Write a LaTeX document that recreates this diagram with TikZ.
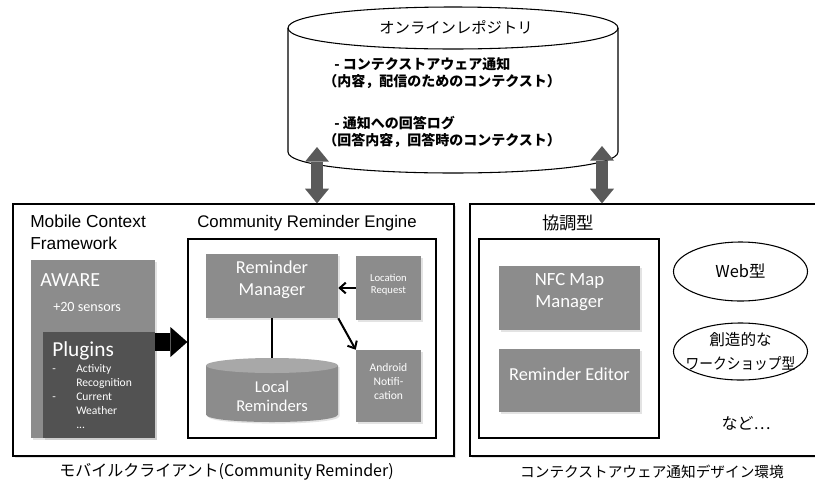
\documentclass[tikz,border=0pt]{standalone}
\usepackage{fontspec}
\setmainfont{Noto Sans CJK JP}
\newfontfamily\arialf{Liberation Sans}
\newfontfamily\calf{Carlito}
\usetikzlibrary{fit,shapes.geometric,arrows.meta,shadows}
\definecolor{boxgray}{HTML}{8C8C8C}
\definecolor{capgray}{HTML}{A8A8A8}
\definecolor{darkgray}{HTML}{525252}
\definecolor{arrowgray}{HTML}{5A5A5A}
\begin{document}
\begin{tikzpicture}[x=0.75pt,y=-0.75pt,
  shadowed/.style={drop shadow={shadow xshift=1.2pt,shadow yshift=-1.2pt,opacity=0.22}},
  outerbox/.style={draw=black,line width=0.9pt,fill=white,inner sep=0pt,shadowed},
  innerbox/.style={draw=black,line width=0.9pt,fill=white,inner sep=0pt},
  graybox/.style={fill=boxgray,inner sep=0pt,text=white,align=center,shadowed},
  darkbox/.style={fill=darkgray,inner sep=0pt,shadowed},
  wtext/.style={text=white,inner sep=0pt,align=center},
  plain/.style={inner sep=0pt,align=center},
  conn/.style={draw=black,line width=1.5pt},
  barb/.style={-{Straight Barb[length=4.5pt,width=8pt]}},
  dblarrow/.style={draw=arrowgray,line width=9pt,
    {Triangle[width=18pt,length=11pt,line width=0pt]}-{Triangle[width=18pt,length=11pt,line width=0pt]}},
  bigarrow/.style={draw=black,line width=14pt,-{Triangle[width=22.5pt,length=12.75pt,line width=0pt]}},
  ovalline/.style={draw=black,line width=0.8pt}
]
\useasboundingbox (0,0) rectangle (815,490);

% ---------- online repository cylinder ----------
\path[draw=black,line width=0.8pt,fill=white]
  (288,28) -- (288,152) .. controls (288,180) and (618,180) .. (618,152)
  -- (618,28) .. controls (618,0) and (288,0) .. cycle;
\draw[line width=0.8pt] (288,28) .. controls (288,56) and (618,56) .. (618,28);
\node[inner sep=0pt,fit={(288,7) (618,173)}] (repo) {};
\node[plain,font=\fontsize{11.5}{14}\selectfont] (repotitle) at (456,27) {オンラインレポジトリ};
\node[plain,anchor=west,font=\bfseries\fontsize{10.5}{13}\selectfont] (r1) at (334,64) {- コンテクストアウェア通知};
\node[plain,anchor=west,font=\bfseries\fontsize{10.5}{13}\selectfont] (r2) at (323,82) {（内容，配信のためのコンテクスト）};
\node[plain,anchor=west,font=\bfseries\fontsize{10.5}{13}\selectfont] (r3) at (334,123) {- 通知への回答ログ};
\node[plain,anchor=west,font=\bfseries\fontsize{10.5}{13}\selectfont] (r4) at (323,141) {（回答内容，回答時のコンテクスト）};

% ---------- outer boxes ----------
\node[outerbox,fit={(13,204) (454,456)}] (leftbox) {};
\node[outerbox,fit={(470,204) (818,456)}] (rightbox) {};

% ---------- left: mobile client ----------
\node[plain,anchor=west,align=left,font=\arialf\fontsize{13}{16.5}\selectfont] (mcf) at (30,232) {Mobile Context\\Framework};
\node[plain,font=\arialf\fontsize{12.6}{15}\selectfont] (cretitle) at (307,223) {Community Reminder Engine};

\node[graybox,fit={(31,260) (155,438)}] (aware) {};
\node[darkbox,fit={(43,332) (155,438)}] (plugins) {};
\node[wtext,anchor=west,font=\calf\fontsize{15}{18}\selectfont] (awaretxt) at (40,280) {AWARE};
\node[wtext,anchor=west,font=\calf\fontsize{10.6}{12}\selectfont] (sensors) at (53,307) {+20 sensors};
\node[wtext,anchor=west,font=\calf\fontsize{16}{18}\selectfont] (pluginstxt) at (52,351) {Plugins};
\node[wtext,anchor=base west,align=left,font=\calf\fontsize{8.7}{10.5}\selectfont] (plist) at (52,372)
  {\begin{tabular}[t]{@{}p{18pt}@{}l@{}}-&Activity\\&Recognition\\-&Current\\&Weather\\&...\end{tabular}};

\node[innerbox,fit={(188,239) (436,438)}] (crebox) {};
\node[graybox,fit={(206,254) (338,318)},font=\calf\fontsize{13.7}{16.5}\selectfont] (rm) {Reminder\\Manager};
\node[graybox,fit={(356,256) (421,320)},font=\calf\fontsize{8}{9}\selectfont] (lr) {Location\\Request};
\node[graybox,fit={(356,350) (421,422)},font=\calf\fontsize{8.7}{10.5}\selectfont] (an) {Android\\Notifi-\\cation};

% local reminders cylinder
\path[fill=boxgray,shadowed] (206,365.5) -- (206,414.5) .. controls (206,424.5) and (338,424.5) .. (338,414.5) -- (338,365.5) -- cycle;
\fill[capgray] (272,365.5) ellipse[x radius=66,y radius=7.5];
\node[inner sep=0pt,fit={(206,358) (338,422)}] (lrem) {};
\node[wtext,font=\calf\fontsize{12.4}{14.25}\selectfont] (lremtxt) at (272,396.5) {Local\\Reminders};

\draw[conn] (rm.south) -- (lrem.north);
\draw[conn,barb] (lr.west) -- (rm.east |- lr.west);
\draw[conn,barb] (rm.south east) -- (an.north west);
\draw[bigarrow] (aware.east |- 0,342) -- (crebox.west |- 0,342);

% ---------- right: design environment ----------
\node[plain,font=\fontsize{13}{15}\selectfont] (kyocho) at (568,223) {協調型};
\node[innerbox,fit={(479,239) (659,438)}] (kbox) {};
\node[graybox,fit={(499,266) (640,330)},font=\calf\fontsize{14}{16.5}\selectfont] (nfc) {NFC Map\\Manager};
\node[graybox,fit={(499,349) (640,412)},font=\calf\fontsize{13.7}{16}\selectfont] (re) {Reminder Editor};
\draw[ovalline] (740.5,271.5) ellipse[x radius=67,y radius=29.5];
\node[plain,font=\fontsize{12.3}{14}\selectfont] (web) at (740.5,271.5) {Web型};
\draw[ovalline] (740.5,351.5) ellipse[x radius=67,y radius=28.5];
\node[plain,font=\fontsize{11.7}{18}\selectfont] (ws) at (740.5,351.5) {創造的な\\\scalebox{0.88}[1]{ワークショップ型}};
\node[plain,font=\fontsize{12}{14}\selectfont] (nado) at (746,423) {など…};

% ---------- bottom labels ----------
\node[plain,font=\fontsize{12}{14}\selectfont] (lblleft) at (226.5,472) {モバイルクライアント(Community Reminder)};
\node[plain,font=\fontsize{11}{13}\selectfont] (lblright) at (652,472) {コンテクストアウェア通知デザイン環境};

% ---------- repository arrows ----------
\coordinate (ra) at (317,147);
\coordinate (rb) at (602,146);
\draw[dblarrow] (ra) -- (leftbox.north -| ra);
\draw[dblarrow] (rb) -- (rightbox.north -| rb);
\end{tikzpicture}
\end{document}
